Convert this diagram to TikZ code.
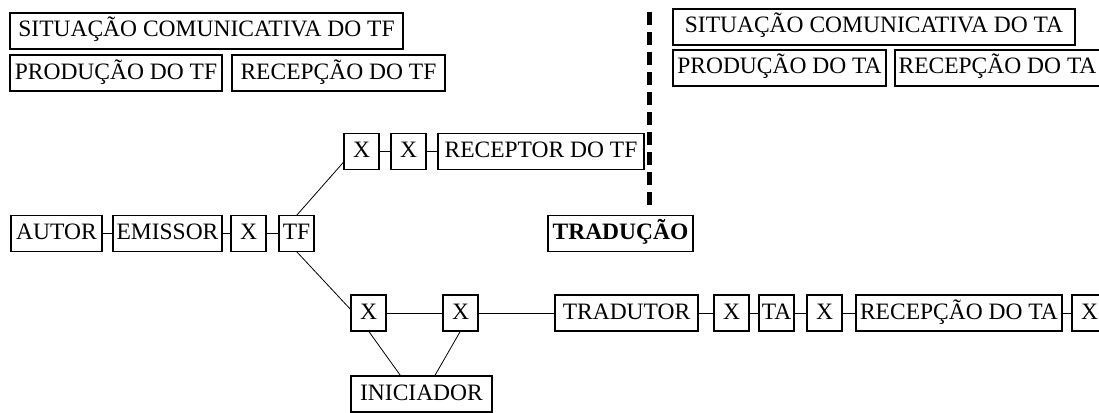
\documentclass[tikz,border=0pt]{standalone}
\usepackage{fontspec}
\setmainfont{Liberation Serif}
\usetikzlibrary{positioning, calc}

\begin{document}
\begin{tikzpicture}[
	x=1pt, y=-1pt,
	caixa/.style={rectangle, draw, line width=1.7pt, outer sep=0pt, minimum height=36pt, inner xsep=2pt, inner ysep=0pt, text height=16pt, text depth=4pt, font=\fontsize{23.5}{26}\selectfont},
	caixap/.style={caixa, minimum width=35pt, inner xsep=0pt},
	liga/.style={line width=0.8pt},
	corte/.style={line width=5pt, dash pattern=on 13pt off 7pt}
	]
	\useasboundingbox (0,0) rectangle (1099,412);
	\clip (0,0) rectangle (1099,412);
	
	% situacoes comunicativas
	\node[caixa, minimum width=393pt, anchor=north west] (sittf) at (10,13) {SITUAÇÃO COMUNICATIVA DO TF};
	\node[caixa, minimum width=212pt, below right=6pt and 0pt of sittf.south west] (prodtf) {PRODUÇÃO DO TF};
	\node[caixa, minimum width=213pt, right=10pt of prodtf] (rectf) {RECEPÇÃO DO TF};
	\node[caixa, minimum width=402pt, anchor=north west] (sitta) at (673,9) {SITUAÇÃO COMUNICATIVA DO TA};
	\node[caixa, minimum width=213pt, below right=5pt and 0pt of sitta.south west] (prodta) {PRODUÇÃO DO TA};
	\node[caixa, minimum width=205pt, right=9pt of prodta] (recta) {RECEPÇÃO DO TA};
	
	% cadeia do TF
	\node[caixa, minimum width=91pt, anchor=west] (autor) at (11,233.5) {AUTOR};
	\node[caixa, minimum width=109pt, right=11pt of autor] (emissor) {EMISSOR};
	\node[caixap, right=9pt of emissor] (x0) {X};
	\node[caixap, right=13pt of x0] (tf) {TF};
	
	% ramo de cima
	\node[caixap, anchor=west] (xa1) at (344,151.5) {X};
	\node[caixap, right=12pt of xa1] (xa2) {X};
	\node[caixa, minimum width=206pt, right=12pt of xa2] (receptor) {RECEPTOR DO TF};
	
	% traducao
	\node[caixa, minimum width=145pt, anchor=west, font=\fontsize{23.5}{26}\selectfont\bfseries] (traducao) at (548,233.5) {TRADUÇÃO};
	\coordinate (cortea) at (649,12);
	\coordinate (corteb) at (649,208);
	
	% ramo de baixo
	\node[caixap, anchor=west] (xb1) at (351,313) {X};
	\node[caixap, right=57pt of xb1] (xb2) {X};
	\node[caixa, minimum width=143pt, right=77pt of xb2] (tradutor) {TRADUTOR};
	\node[caixap, right=16pt of tradutor] (xc1) {X};
	\node[caixap, right=10pt of xc1] (ta) {TA};
	\node[caixap, right=13pt of ta] (xc2) {X};
	\node[caixa, minimum width=206pt, right=14pt of xc2] (recepta) {RECEPÇÃO DO TA};
	\node[caixap, right=10pt of recepta] (xc3) {X};
	\node[caixa, minimum width=141pt, anchor=north west] (iniciador) at (351,376) {INICIADOR};
	
	% ligacoes
	\draw[liga] (autor) -- (emissor);
	\draw[liga] (emissor) -- (x0);
	\draw[liga] (x0) -- (tf);
	\draw[liga] (tf.north) -- (xa1.210);
	\draw[liga] (xa1) -- (xa2);
	\draw[liga] (xa2) -- (receptor);
	\draw[liga] (tf.south) -- (xb1.170);
	\draw[liga] (xb1) -- (xb2);
	\draw[liga] (xb2) -- (tradutor);
	\draw[liga] (tradutor) -- (xc1);
	\draw[liga] (xc1) -- (ta);
	\draw[liga] (ta) -- (xc2);
	\draw[liga] (xc2) -- (recepta);
	\draw[liga] (recepta) -- (xc3);
	\draw[liga] (xb1.south) -- (iniciador.139);
	\draw[liga] (xb2.south) -- (iniciador.54);
	
	% linha tracejada
	\draw[corte] (cortea) -- (corteb);
\end{tikzpicture}
\end{document}
